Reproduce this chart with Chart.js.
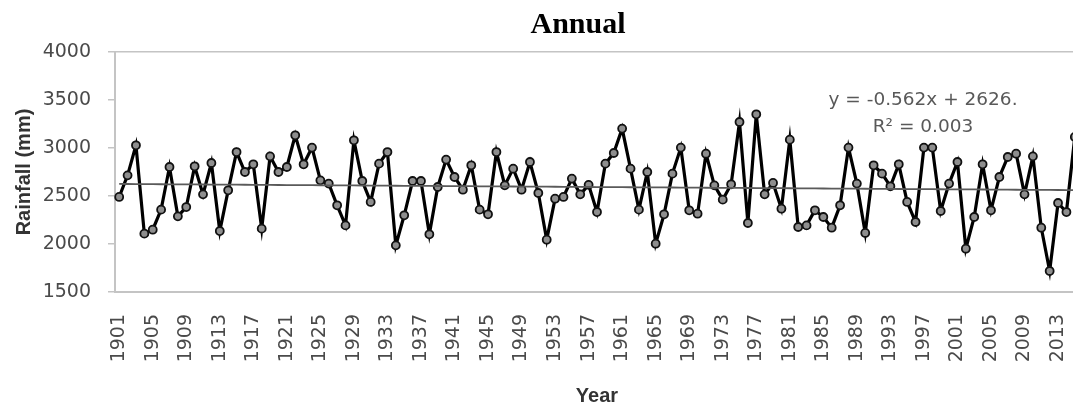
<!DOCTYPE html>
<html>
<head>
<meta charset="utf-8">
<title>Annual rainfall</title>
<script src="https://cdn.jsdelivr.net/npm/chart.js@4/dist/chart.umd.min.js"></script>
<style>
  html, body { margin: 0; padding: 0; background: #fff; overflow: hidden; }
  #wrap { position: absolute; left: 0; top: 0; width: 1156px; height: 411px; }
  canvas { display: block; }
</style>
</head>
<body>
<div id="wrap"><canvas id="chart" width="1156" height="411"></canvas></div>
<script>
// Annual rainfall, 1901-2015 (mm)
const firstYear = 1901;
const lastYear = 2015;
const years = [];
for (let y = firstYear; y <= lastYear; y++) years.push(String(y));

const rainfall = [
  2490, 2715, 3028, 2108, 2149, 2358, 2802, 2288, 2385, 2809,
  2517, 2844, 2135, 2559, 2958, 2750, 2830, 2160, 2913, 2750,
  2802, 3132, 2830, 3004, 2663, 2629, 2403, 2194, 3080, 2656,
  2438, 2837, 2958, 1986, 2299, 2656, 2656, 2101, 2594, 2879,
  2698, 2566, 2820, 2358, 2309, 2958, 2611, 2785, 2566, 2854,
  2531, 2045, 2472, 2490, 2681, 2517, 2616, 2333, 2837, 2948,
  3202, 2785, 2358, 2750, 2003, 2309, 2733, 3004, 2351, 2316,
  2941, 2611, 2462, 2622, 3271, 2219, 3351, 2517, 2636, 2368,
  3087, 2177, 2194, 2351, 2281, 2170, 2403, 3004, 2629, 2115,
  2820, 2733, 2601, 2830, 2438, 2229, 3004, 3004, 2344, 2629,
  2854, 1951, 2281, 2830, 2351, 2698, 2906, 2941, 2517, 2913,
  2170, 1719, 2427, 2333, 3115
];

// Year labels shown on the category axis
const tickYears = ['1901','1905','1909','1913','1917','1921','1925','1929','1933','1937',
  '1941','1945','1949','1953','1957','1961','1965','1969','1973','1977','1981','1985',
  '1989','1993','1997','2001','2005','2009','2013'];

// Linear trend as printed on the chart: y = -0.562x + 2626, R² = 0.003
const trendSlope = -0.562;
const trendIntercept = 2626;
const trendText = ['y = -0.562x + 2626.', 'R\u00b2 = 0.003'];
const trend = rainfall.map((_, i) => trendIntercept + trendSlope * (i + 1));

const yTickMin = 1500, yTickMax = 4000, yTickStep = 500;

const equationLabel = {
  id: 'equationLabel',
  afterDatasetsDraw(chart) {
    const ctx = chart.ctx;
    const cx = chart.chartArea.left + 808;
    ctx.save();
    ctx.font = '18.5px "DejaVu Sans", sans-serif';
    ctx.fillStyle = '#595959';
    ctx.textAlign = 'center';
    ctx.textBaseline = 'middle';
    ctx.fillText(trendText[0], cx, 100);
    ctx.fillText(trendText[1], cx, 127);
    ctx.restore();
  }
};

new Chart(document.getElementById('chart'), {
  type: 'line',
  data: {
    labels: years,
    datasets: [
      {
        label: 'Linear trend',
        data: trend,
        borderColor: '#5a5a5a',
        borderWidth: 1.8,
        pointRadius: 0,
        tension: 0,
        order: 0
      },
      {
        label: 'Rainfall',
        data: rainfall,
        borderColor: '#000000',
        borderWidth: 3.2,
        pointRadius: 4,
        pointBorderWidth: 1.8,
        pointBorderColor: '#111111',
        pointBackgroundColor: '#8e8e8e',
        tension: 0,
        order: 1
      }
    ]
  },
  options: {
    responsive: false,
    animation: false,
    layout: { padding: 0 },
    plugins: {
      legend: { display: false },
      tooltip: { enabled: false },
      title: {
        display: true,
        text: 'Annual',
        color: '#000000',
        font: { family: '"Liberation Serif", "Times New Roman", serif', size: 30, weight: 'bold' },
        padding: { top: 7, bottom: 9 }
      }
    },
    scales: {
      x: {
        type: 'category',
        offset: true,
        grid: { display: false, drawTicks: false },
        border: { display: true, color: '#c4c4c4', width: 2 },
        ticks: {
          autoSkip: false,
          minRotation: 90,
          maxRotation: 90,
          padding: 22,
          color: '#4a4a4a',
          font: { family: '"DejaVu Sans", sans-serif', size: 19 },
          callback(value, index) {
            const lbl = years[index];
            return tickYears.includes(lbl) ? lbl : '';
          }
        },
        title: {
          display: true,
          text: 'Year',
          color: '#333333',
          font: { family: '"Liberation Sans", Arial, sans-serif', size: 20, weight: 'bold' },
          padding: { top: 0, bottom: 3 }
        },
        afterFit(scale) { scale.height = 119; }
      },
      y: {
        position: 'left',
        min: yTickMin,
        max: yTickMax,
        ticks: {
          stepSize: yTickStep,
          padding: 17,
          color: '#4a4a4a',
          font: { family: '"DejaVu Sans", sans-serif', size: 19 },
          callback: (value) => String(value)
        },
        grid: {
          drawTicks: true,
          tickLength: 7,
          lineWidth: 1.5,
          color: (c) => (c.tick && c.tick.value === yTickMax ? '#c4c4c4' : 'rgba(0,0,0,0)'),
          tickColor: '#c4c4c4'
        },
        border: { display: true, color: '#c4c4c4', width: 2 },
        title: {
          display: true,
          text: 'Rainfall (mm)',
          color: '#333333',
          font: { family: '"Liberation Sans", Arial, sans-serif', size: 20, weight: 'bold' },
          padding: { top: 12, bottom: 0 }
        },
        afterFit(scale) { scale.width = 115; }
      },
      yRight: {
        position: 'right',
        min: 0,
        max: 1,
        grid: { display: false, drawTicks: false },
        border: { display: false },
        ticks: { display: false },
        afterFit(scale) { scale.width = 77; }
      }
    }
  },
  plugins: [equationLabel]
});
</script>
</body>
</html>
